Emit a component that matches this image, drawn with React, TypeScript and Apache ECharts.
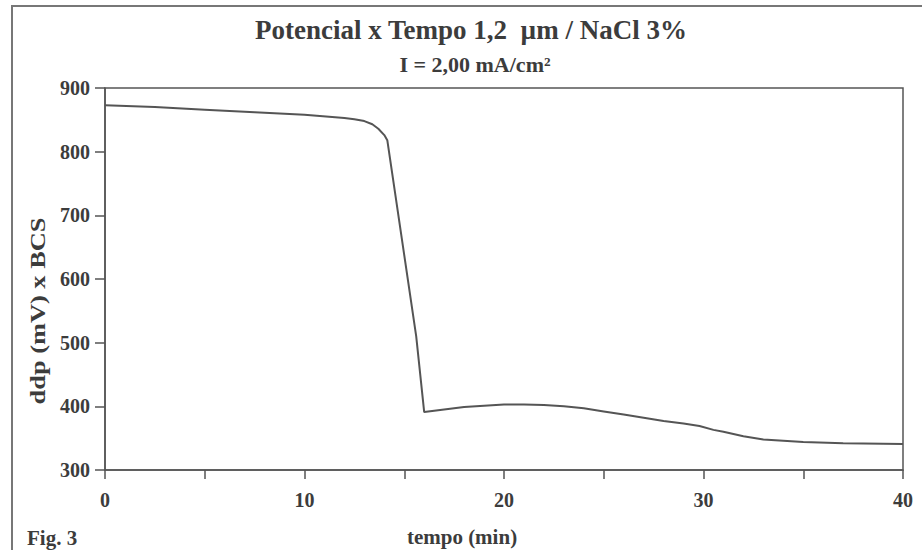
import React, { useEffect, useRef } from "react";
import * as echarts from "echarts";

const titleText = "Potencial x Tempo 1,2  \u00b5m / NaCl 3%";
const subtitleText = "I = 2,00 mA/cm\u00b2";
const xAxisName = "tempo (min)";
const yAxisName = "ddp (mV) x BCS";
const figLabel = "Fig. 3";

const tempo = [0, 2.5, 5, 7.5, 10, 12, 12.5, 13, 13.4, 13.7, 14, 14.15, 15.6, 16, 16.5, 17, 18, 19, 20, 21, 22, 23, 24, 25, 26, 27, 28, 29, 29.8, 30.5, 31, 32, 33, 34, 35, 37, 40];
const ddp = [873, 870, 866, 862, 858, 853, 851, 848, 843, 836, 826, 818, 510, 391, 393, 395, 399, 401, 403, 403, 402, 400, 397, 392, 387, 382, 377, 373, 369, 363, 360, 353, 348, 346, 344, 342, 341];

const xMin = 0, xMax = 40, xInterval = 5;
const yMin = 300, yMax = 900, yInterval = 100;

const serif = "'Liberation Serif', 'DejaVu Serif', serif";
const ink = "#3c3c3c";

export default function App() {
  const ref = useRef<HTMLDivElement>(null);
  useEffect(() => {
    if (!ref.current) return;
    const chart = echarts.init(ref.current, null, { renderer: "svg" });
    const data = tempo.map((t, i) => [t, ddp[i]]);
    chart.setOption({
      animation: false,
      backgroundColor: "#fff",
      grid: {
        left: 105, right: 19, top: 88, bottom: 80,
        show: true, borderColor: "#555", borderWidth: 1.5, backgroundColor: "transparent",
      },
      xAxis: {
        type: "value", min: xMin, max: xMax, interval: xInterval,
        axisLine: { lineStyle: { color: "#555", width: 1.5 } },
        axisTick: { show: true, length: 9, lineStyle: { color: "#555", width: 1.5 } },
        splitLine: { show: false },
        axisLabel: {
          color: ink, fontFamily: serif, fontWeight: "bold", fontSize: 20, margin: 20,
          formatter: (v: number) => (v % 10 === 0 ? String(v) : ""),
        },
      },
      yAxis: {
        type: "value", min: yMin, max: yMax, interval: yInterval,
        axisLine: { show: true, lineStyle: { color: "#555", width: 1.5 } },
        axisTick: { show: true, length: 10, lineStyle: { color: "#555", width: 1.5 } },
        splitLine: { show: false },
        axisLabel: { color: ink, fontFamily: serif, fontWeight: "bold", fontSize: 20, margin: 15 },
      },
      series: [
        {
          type: "line", data, showSymbol: false, smooth: false,
          lineStyle: { color: "#555", width: 2 },
        },
      ],
      graphic: [
        {
          type: "rect", shape: { x: 12, y: 6, width: 940, height: 580 }, silent: true,
          style: { fill: "none", stroke: "#777", lineWidth: 2 },
        },
        {
          type: "text", x: 471, y: 30,
          style: { text: titleText, font: `bold 27px ${serif}`, fill: ink, align: "center", verticalAlign: "middle" },
        },
        {
          type: "text", x: 475, y: 64,
          style: { text: subtitleText, font: `bold 22px ${serif}`, fill: ink, align: "center", verticalAlign: "middle" },
        },
        {
          type: "text", x: 462, y: 537,
          style: { text: xAxisName, font: `bold 21px ${serif}`, fill: ink, align: "center", verticalAlign: "middle" },
        },
        {
          type: "text", x: 27, y: 538,
          style: { text: figLabel, font: `bold 21px ${serif}`, fill: ink, align: "left", verticalAlign: "middle" },
        },
        {
          type: "text", x: 37, y: 311, rotation: Math.PI / 2, scaleX: 1.2,
          style: { text: yAxisName, font: `bold 22px ${serif}`, fill: ink, align: "center", verticalAlign: "middle" },
        },
      ],
    });
    return () => chart.dispose();
  }, []);
  return <div ref={ref} style={{ width: 922, height: 550, position: "absolute", left: 0, top: 0 }} />;
}
